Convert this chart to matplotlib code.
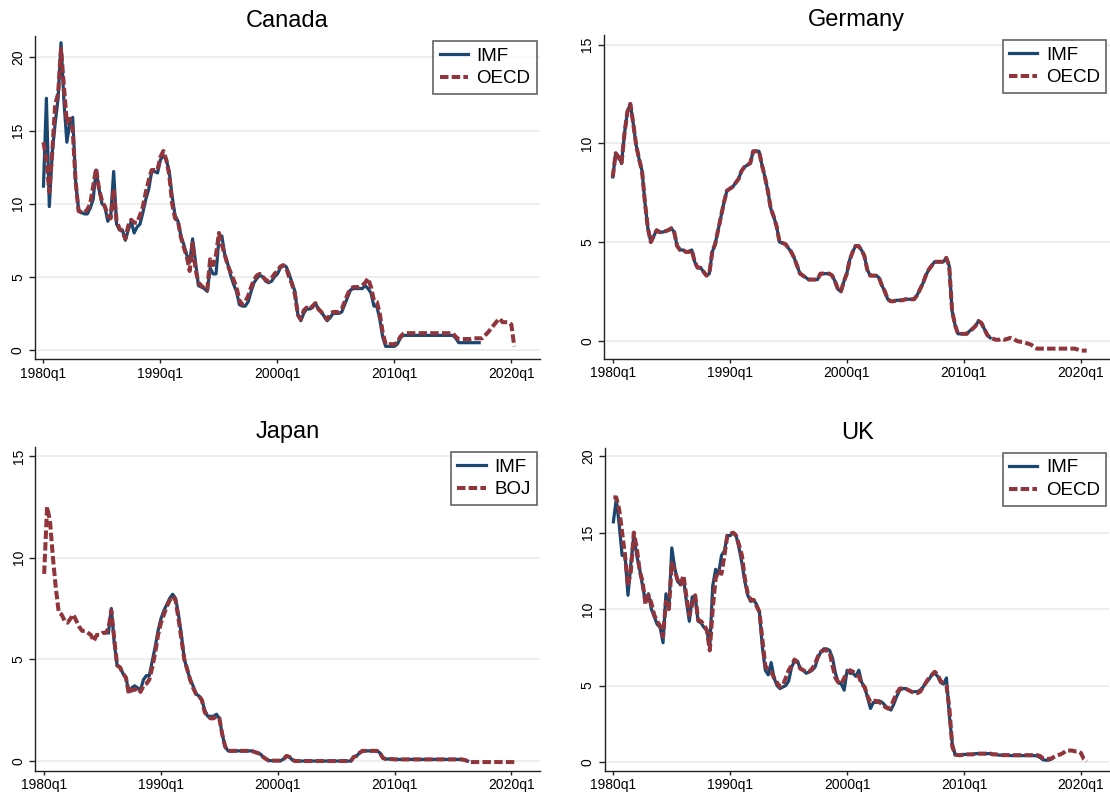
import numpy as np
import matplotlib
matplotlib.use("Agg")
import matplotlib.pyplot as plt

plt.rcParams['font.family'] = ['Liberation Sans', 'DejaVu Sans']

NAVY = '#1a476f'
MAROON = '#90353b'

# Policy / short rates, quarterly. Each list starts at the quarter given in *_start.
can_imf_start = 1980.0
can_imf = [
    11.2, 17.2, 9.8, 13.5,   15.5, 17.2, 21.0, 17.0,   14.2, 15.5, 15.9, 11.5,
    9.6, 9.4, 9.3, 9.3,      9.7, 10.3, 12.3, 11.0,    10.0, 9.8, 8.8, 9.2,
    12.2, 8.6, 8.2, 8.2,     7.5, 8.2, 8.8, 8.0,       8.4, 8.6, 9.4, 10.3,
    11.0, 12.2, 12.2, 12.1,  13.0, 13.3, 13.0, 12.2,   10.5, 9.2, 8.8, 7.8,
    7.2, 6.5, 6.0, 7.6,      6.0, 4.4, 4.3, 4.2,       4.0, 5.6, 5.2, 5.2,
    7.6, 7.8, 6.5, 5.9,      5.1, 4.5, 4.0, 3.1,       3.0, 3.0, 3.3, 4.0,
    4.6, 4.9, 5.1, 5.0,      4.7, 4.6, 4.7, 5.0,       5.2, 5.6, 5.8, 5.7,
    5.2, 4.6, 4.0, 2.4,      2.0, 2.5, 2.8, 2.8,       2.9, 3.2, 2.8, 2.6,
    2.3, 2.0, 2.2, 2.5,      2.5, 2.5, 2.6, 3.1,       3.6, 4.1, 4.2, 4.2,
    4.2, 4.2, 4.4, 4.2,      3.9, 3.0, 3.0, 2.1,       0.9, 0.25, 0.25, 0.25,
    0.25, 0.4, 0.8, 1.0,     1.0, 1.0, 1.0, 1.0,       1.0, 1.0, 1.0, 1.0,
    1.0, 1.0, 1.0, 1.0,      1.0, 1.0, 1.0, 1.0,       1.0, 0.8, 0.5, 0.5,
    0.5, 0.5, 0.5, 0.5,      0.5, 0.5,
]
can_oecd_start = 1980.0
can_oecd = [
    14.2, 13.0, 10.8, 13.5,  16.8, 17.5, 20.6, 18.0,   15.5, 15.8, 15.0, 11.5,
    9.5, 9.4, 9.4, 9.6,      10.0, 11.2, 12.4, 11.0,   10.2, 9.8, 9.2, 9.0,
    11.0, 8.8, 8.3, 8.1,     7.6, 8.5, 8.9, 8.7,       8.7, 9.2, 9.8, 10.8,
    11.6, 12.3, 12.3, 12.3,  13.2, 13.6, 13.0, 12.0,   10.0, 9.0, 8.8, 7.7,
    7.0, 6.4, 5.4, 7.3,      5.5, 4.6, 4.4, 4.2,       4.1, 6.2, 5.8, 6.5,
    8.0, 7.2, 6.5, 5.8,      5.3, 4.8, 4.3, 3.4,       3.1, 3.3, 3.7, 4.3,
    4.8, 5.1, 5.2, 5.0,      4.8, 4.7, 4.9, 5.2,       5.4, 5.7, 5.8, 5.6,
    5.0, 4.5, 3.8, 2.4,      2.1, 2.7, 2.9, 2.8,       3.0, 3.2, 2.8, 2.6,
    2.3, 2.1, 2.4, 2.6,      2.6, 2.6, 2.8, 3.3,       3.8, 4.2, 4.3, 4.3,
    4.3, 4.4, 4.6, 4.9,      4.3, 3.4, 3.3, 2.5,       1.2, 0.4, 0.4, 0.4,
    0.4, 0.5, 0.9, 1.1,      1.15, 1.15, 1.15, 1.15,   1.15, 1.15, 1.15, 1.15,
    1.15, 1.15, 1.15, 1.15,  1.15, 1.15, 1.15, 1.15,   1.15, 0.9, 0.75, 0.75,
    0.75, 0.75, 0.75, 0.8,   0.8, 0.8, 0.8, 1.0,       1.2, 1.45, 1.7, 1.95,
    2.15, 1.9, 1.9, 1.9,     1.75, 0.25,
]

ger_imf_start = 1980.0
ger_imf = [
    8.3, 9.5, 9.3, 9.0,      10.5, 11.6, 12.0, 11.0,   9.9, 9.2, 8.6, 7.0,
    5.7, 5.0, 5.3, 5.6,      5.5, 5.5, 5.55, 5.6,      5.7, 5.5, 4.8, 4.6,
    4.6, 4.5, 4.5, 4.6,      4.0, 3.7, 3.7, 3.5,       3.3, 3.4, 4.5, 4.9,
    5.6, 6.3, 7.0, 7.6,      7.7, 7.8, 8.0, 8.2,       8.6, 8.8, 8.9, 9.0,
    9.6, 9.6, 9.6, 8.9,      8.3, 7.6, 6.7, 6.3,       5.8, 5.0, 4.95, 4.9,
    4.7, 4.5, 4.2, 3.8,      3.4, 3.3, 3.2, 3.1,       3.1, 3.1, 3.1, 3.4,
    3.4, 3.4, 3.4, 3.3,      3.0, 2.6, 2.5, 3.0,       3.4, 4.1, 4.5, 4.8,
    4.8, 4.6, 4.3, 3.6,      3.3, 3.3, 3.3, 3.2,       2.8, 2.5, 2.1, 2.0,
    2.0, 2.05, 2.05, 2.05,   2.1, 2.1, 2.1, 2.1,       2.3, 2.6, 2.9, 3.3,
    3.6, 3.8, 4.0, 4.0,      4.0, 4.0, 4.2, 3.8,       1.5, 0.8, 0.35, 0.35,
    0.35, 0.35, 0.5, 0.6,    0.75, 1.0, 0.9, 0.6,      0.3, 0.15,
]
# OECD series tracks the IMF one up to 2012q2, then carries on alone
ger_oecd_start = 1980.0
ger_oecd_tail = [
    0.1, 0.05,               0.05, 0.1, 0.05, 0.1,     0.15, 0.1, 0.0, -0.05,
    -0.05, -0.1, -0.15, -0.2,  -0.3, -0.4, -0.4, -0.4,  -0.4, -0.4, -0.4, -0.4,
    -0.4, -0.4, -0.4, -0.4,  -0.4, -0.4, -0.4, -0.45,  -0.5, -0.5, -0.5,
]
ger_oecd = ger_imf + ger_oecd_tail

jpn_imf_start = 1985.5
jpn_imf = [
    6.3, 7.5,                5.8, 4.7, 4.6, 4.3,       4.1, 3.4, 3.6, 3.7,
    3.6, 3.5, 4.0, 4.2,      4.2, 4.9, 5.6, 6.4,       7.0, 7.4, 7.7, 8.0,
    8.2, 8.0, 7.2, 6.2,      5.0, 4.5, 4.0, 3.7,       3.3, 3.2, 3.0, 2.5,
    2.2, 2.2, 2.2, 2.3,      2.1, 1.3, 0.7, 0.5,       0.5, 0.5, 0.5, 0.5,
    0.5, 0.5, 0.5, 0.5,      0.45, 0.4, 0.35, 0.2,     0.1, 0.02, 0.02, 0.02,
    0.02, 0.02, 0.1, 0.25,   0.2, 0.05, 0.0, 0.0,      0.0, 0.0, 0.0, 0.0,
    0.0, 0.0, 0.0, 0.0,      0.0, 0.0, 0.0, 0.0,       0.0, 0.0, 0.0, 0.0,
    0.0, 0.0, 0.2, 0.25,     0.4, 0.5, 0.5, 0.5,       0.5, 0.5, 0.5, 0.4,
    0.15, 0.1, 0.1, 0.1,     0.08, 0.08, 0.08, 0.08,   0.08, 0.08, 0.08, 0.08,
    0.08, 0.08, 0.08, 0.08,  0.08, 0.08, 0.08, 0.08,   0.08, 0.08, 0.08, 0.08,
    0.08, 0.08, 0.08, 0.08,  0.05, 0.0,
]
jpn_boj_start = 1980.0
jpn_boj = [
    9.2, 12.5, 11.8, 10.0,   8.5, 7.3, 7.2, 6.9,       6.8, 7.0, 7.2, 6.9,
    6.6, 6.4, 6.4, 6.3,      6.2, 5.9, 6.2, 6.2,       6.3, 6.3, 6.5, 7.4,
    6.0, 4.7, 4.6, 4.3,      4.1, 3.3, 3.5, 3.5,       3.6, 3.4, 3.7, 3.8,
    4.0, 4.6, 5.3, 6.2,      6.8, 7.2, 7.6, 7.9,       8.1, 7.9, 7.0, 6.0,
    5.0, 4.5, 4.0, 3.6,      3.3, 3.2, 3.0, 2.4,       2.2, 2.1, 2.1, 2.2,
    2.1, 1.3, 0.7, 0.5,      0.5, 0.5, 0.5, 0.5,       0.5, 0.5, 0.5, 0.5,
    0.45, 0.4, 0.35, 0.2,    0.1, 0.02, 0.02, 0.02,    0.02, 0.02, 0.1, 0.25,
    0.2, 0.05, 0.0, 0.0,     0.0, 0.0, 0.0, 0.0,       0.0, 0.0, 0.0, 0.0,
    0.0, 0.0, 0.0, 0.0,      0.0, 0.0, 0.0, 0.0,       0.0, 0.0, 0.2, 0.25,
    0.4, 0.5, 0.5, 0.5,      0.5, 0.5, 0.5, 0.4,       0.15, 0.1, 0.1, 0.1,
    0.08, 0.08, 0.08, 0.08,  0.08, 0.08, 0.08, 0.08,   0.08, 0.08, 0.08, 0.08,
    0.08, 0.08, 0.08, 0.08,  0.08, 0.08, 0.08, 0.08,   0.08, 0.08, 0.08, 0.08,
    0.05, 0.0, -0.05, -0.05, -0.05, -0.05, -0.05, -0.05, -0.05, -0.05, -0.05, -0.05,
    -0.05, -0.05, -0.05, -0.05, -0.05, -0.05, -0.05,
]

uk_imf_start = 1980.0
uk_imf = [
    15.7, 17.2, 15.5, 13.5,  13.5, 10.9, 13.0, 14.8,   13.5, 12.6, 11.5, 10.5,
    11.0, 10.0, 9.5, 9.0,    8.8, 7.8, 11.0, 10.0,     14.0, 12.7, 11.8, 11.6,
    12.0, 10.5, 9.2, 10.8,   10.8, 9.2, 9.1, 8.8,      8.6, 7.5, 11.5, 12.6,
    12.3, 13.5, 13.8, 14.8,  14.8, 15.0, 14.8, 14.0,   13.0, 11.8, 10.9, 10.5,
    10.6, 10.3, 9.8, 7.5,    6.0, 5.7, 6.5, 5.5,       5.0, 4.8, 4.9, 5.0,
    5.3, 6.2, 6.6, 6.6,      6.1, 6.0, 5.8, 5.9,       6.0, 6.2, 6.8, 7.2,
    7.4, 7.4, 7.3, 6.8,      5.8, 5.2, 5.1, 4.7,       6.0, 5.8, 5.8, 5.6,
    6.0, 5.2, 4.9, 4.2,      3.5, 3.9, 3.9, 4.0,       3.9, 3.7, 3.5, 3.4,
    3.8, 4.3, 4.7, 4.8,      4.8, 4.7, 4.6, 4.6,       4.6, 4.7, 4.9, 5.2,
    5.4, 5.7, 5.8, 5.6,      5.2, 5.1, 5.5, 3.0,       1.2, 0.45, 0.45, 0.45,
    0.5, 0.5, 0.5, 0.5,      0.55, 0.55, 0.55, 0.55,   0.55, 0.55, 0.5, 0.5,
    0.45, 0.45, 0.45, 0.45,  0.42, 0.42, 0.42, 0.42,   0.42, 0.42, 0.42, 0.42,
    0.42, 0.4, 0.3, 0.15,    0.12, 0.12, 0.2,
]
uk_oecd_start = 1980.0
uk_oecd = [
    17.3, 17.3, 16.5, 15.0,  13.5, 11.5, 12.5, 15.0,   14.0, 12.5, 11.8, 10.3,
    10.9, 10.4, 9.6, 9.2,    8.9, 8.2, 10.5, 10.0,     13.0, 12.5, 11.9, 11.6,
    12.2, 10.8, 9.6, 10.3,   10.9, 9.3, 9.2, 9.0,      8.6, 7.3, 10.0, 12.0,
    12.5, 12.3, 13.5, 14.8,  14.9, 15.0, 14.8, 14.2,   13.5, 12.0, 11.0, 10.6,
    10.6, 10.2, 9.8, 8.0,    6.3, 6.0, 5.9, 5.5,       5.2, 4.9, 5.0, 5.5,
    6.0, 6.3, 6.7, 6.5,      6.1, 6.0, 5.9, 5.9,       6.1, 6.4, 6.9, 7.2,
    7.3, 7.3, 7.2, 6.3,      5.5, 5.2, 5.1, 5.5,       5.8, 6.0, 5.9, 5.8,
    5.6, 5.1, 4.9, 4.3,      3.9, 4.0, 4.0, 3.9,       3.8, 3.6, 3.5, 3.6,
    4.1, 4.5, 4.8, 4.8,      4.8, 4.7, 4.6, 4.5,       4.5, 4.6, 4.9, 5.2,
    5.5, 5.7, 5.9, 5.7,      5.3, 5.1, 5.0, 3.5,       1.0, 0.5, 0.45, 0.45,
    0.5, 0.5, 0.5, 0.5,      0.55, 0.55, 0.55, 0.55,   0.55, 0.55, 0.5, 0.5,
    0.45, 0.45, 0.45, 0.45,  0.45, 0.45, 0.45, 0.45,   0.45, 0.45, 0.45, 0.45,
    0.45, 0.45, 0.4, 0.25,   0.2, 0.2, 0.25, 0.35,     0.45, 0.5, 0.6, 0.75,
    0.75, 0.75, 0.7, 0.7,    0.6, 0.2, 0.05,
]

tick_years = [1980, 1990, 2000, 2010, 2020]
tick_labels = ['1980q1', '1990q1', '2000q1', '2010q1', '2020q1']

W, H = 1110, 795


def quarters(start, n):
    return start + 0.25 * np.arange(n)


def panel(box, title, imf, imf_start, other, other_start, other_name, ylim, yticks):
    left, top, right, bottom = box
    ax = fig.add_axes([left / W, 1 - bottom / H, (right - left) / W, (bottom - top) / H])
    ax.plot(quarters(imf_start, len(imf)), imf, color=NAVY, lw=2.3, label='IMF',
            solid_joinstyle='round', zorder=3)
    ax.plot(quarters(other_start, len(other)), other, color=MAROON, lw=2.9,
            dashes=(2.1, 0.8), label=other_name, zorder=4)
    ax.set_xlim(1979.25, 2022.45)
    ax.set_ylim(*ylim)
    ax.set_xticks(tick_years)
    ax.set_xticklabels(tick_labels)
    ax.set_yticks(yticks)
    ax.set_yticklabels([str(v) for v in yticks], rotation=90, va='center')
    ax.grid(axis='y', color='#eaeaea', lw=1.1, zorder=0)
    ax.set_axisbelow(True)
    for side in ('top', 'right'):
        ax.spines[side].set_visible(False)
    for side in ('left', 'bottom'):
        ax.spines[side].set_color('#222222')
        ax.spines[side].set_linewidth(1.0)
    ax.tick_params(axis='x', length=3, width=1.0, pad=2.5, labelsize=10, color='#222222')
    ax.tick_params(axis='y', length=4, width=1.0, pad=3, labelsize=10, color='#222222')
    ax.set_title(title, fontsize=17, pad=6.5)
    leg = ax.legend(loc='upper right', bbox_to_anchor=(0.994, 0.985), borderaxespad=0,
                    fontsize=13.5, frameon=True, fancybox=False, handlelength=1.5,
                    handletextpad=0.45, labelspacing=0.3, borderpad=0.35)
    leg.get_frame().set_edgecolor('#3c3c3c')
    leg.get_frame().set_linewidth(1.2)
    return ax


fig = plt.figure(figsize=(W / 100, H / 100), dpi=100)

panel((34.7, 36, 540, 359), 'Canada', can_imf, can_imf_start, can_oecd, can_oecd_start,
      'OECD', (-0.615, 21.46), [0, 5, 10, 15, 20])
panel((604, 35, 1109.5, 358.7), 'Germany', ger_imf, ger_imf_start, ger_oecd, ger_oecd_start,
      'OECD', (-0.91, 15.49), [0, 5, 10, 15])
panel((35.4, 447, 540, 770.6), 'Japan', jpn_imf, jpn_imf_start, jpn_boj, jpn_boj_start,
      'BOJ', (-0.47, 15.44), [0, 5, 10, 15])
panel((604.6, 447.8, 1109.5, 770.6), 'UK', uk_imf, uk_imf_start, uk_oecd, uk_oecd_start,
      'OECD', (-0.56, 20.54), [0, 5, 10, 15, 20])

fig.savefig('out.png', dpi=100, facecolor='white')
